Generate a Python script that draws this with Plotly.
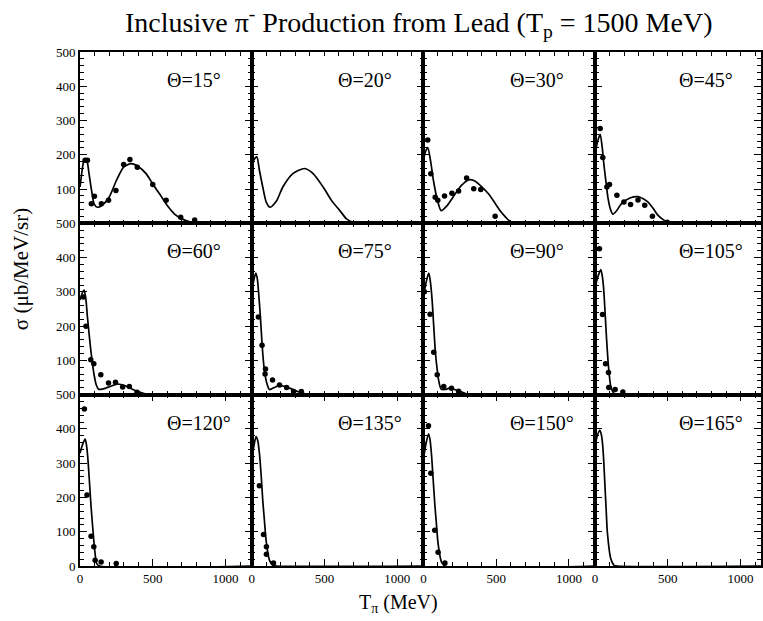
import plotly.graph_objects as go

# ---------------- data ----------------
angles = [15, 20, 30, 45, 60, 75, 90, 105, 120, 135, 150, 165]

# Theta = 15
pts15_T = [35, 51, 78, 99, 147, 196, 247, 300, 343, 394, 500, 592, 692, 788]
pts15_s = [184, 184, 57, 79, 57, 67, 96, 172, 186, 164, 113, 67, 18, 10]
fit15_T = [0, 10, 25, 40, 50, 62, 80, 97, 120, 150, 200, 250, 300, 350, 400, 454, 500, 550, 600, 650, 700, 750, 820, 1180]
fit15_s = [106, 140, 180, 189, 180, 145, 95, 57, 47, 52, 76, 125, 164, 174, 166, 145, 115, 84, 52, 27, 13, 5, 0, 0]

# Theta = 20 (no data points)
pts20_T = []
pts20_s = []
fit20_T = [0, 15, 35, 53, 76, 100, 127, 170, 214, 283, 364, 422, 491, 548, 606, 652, 698, 760, 1180]
fit20_s = [155, 185, 194, 155, 106, 62, 47, 65, 106, 145, 160, 145, 106, 67, 37, 13, 3, 0, 0]

# Theta = 30
pts30_T = [30, 51, 81, 99, 145, 196, 242, 297, 346, 394, 493]
pts30_s = [243, 145, 76, 67, 80, 88, 94, 132, 101, 99, 21]
fit30_T = [0, 15, 30, 50, 69, 95, 122, 160, 219, 260, 311, 350, 403, 450, 495, 530, 565, 600, 650, 1180]
fit30_s = [184, 210, 221, 180, 125, 70, 37, 50, 86, 110, 127, 124, 106, 85, 57, 35, 18, 4, 0, 0]

# Theta = 45
pts45_T = [35, 53, 81, 99, 150, 198, 244, 295, 341, 394, 496]
pts45_s = [277, 192, 106, 113, 82, 62, 55, 68, 53, 21, 3]
fit45_T = [0, 15, 35, 48, 60, 75, 88, 105, 122, 150, 180, 240, 295, 330, 364, 400, 433, 470, 502, 550, 1140]
fit45_s = [199, 235, 260, 225, 174, 120, 76, 42, 27, 38, 57, 74, 78, 72, 62, 43, 23, 10, 3, 0, 0]

# Theta = 60
pts60_T = [23, 41, 74, 95, 143, 196, 244, 293, 339, 392]
pts60_s = [285, 200, 102, 90, 58, 34, 36, 22, 24, 7]
fit60_T = [0, 15, 28, 40, 51, 62, 74, 86, 99, 112, 127, 160, 207, 254, 290, 323, 360, 392, 430, 461, 520, 1180]
fit60_s = [276, 296, 305, 280, 227, 180, 131, 90, 53, 28, 16, 17, 24, 31, 29, 24, 16, 10, 5, 2, 0, 0]

# Theta = 75
pts75_T = [46, 71, 92, 95, 143, 191, 240, 288, 341]
pts75_s = [227, 144, 60, 75, 43, 28, 21, 9, 9]
fit75_T = [0, 15, 28, 38, 48, 60, 71, 80, 90, 105, 122, 150, 191, 225, 260, 295, 330, 399, 1180]
fit75_s = [300, 335, 355, 340, 295, 225, 150, 100, 63, 32, 15, 20, 27, 24, 19, 13, 7, 0, 0]

# Theta = 90
pts90_T = [7, 46, 71, 95, 140, 193, 242]
pts90_s = [300, 235, 124, 58, 24, 19, 10]
fit90_T = [0, 20, 37, 48, 60, 71, 83, 93, 104, 122, 150, 180, 215, 249, 318, 1180]
fit90_s = [285, 330, 355, 330, 276, 200, 121, 80, 44, 16, 15, 19, 15, 10, 0, 0]

# Theta = 105
pts105_T = [30, 51, 72, 92, 94, 138, 191]
pts105_s = [426, 234, 90, 65, 21, 15, 8]
fit105_T = [0, 20, 39, 48, 58, 66, 74, 83, 92, 108, 127, 150, 1140]
fit105_s = [314, 345, 365, 350, 314, 260, 198, 135, 82, 24, 5, 0, 0]

# Theta = 120
pts120_T = [30, 48, 76, 95, 104, 145, 249]
pts120_s = [458, 207, 87, 56, 17, 12, 7]
fit120_T = [0, 18, 35, 44, 53, 65, 76, 88, 99, 115, 135, 1180]
fit120_s = [329, 355, 370, 355, 319, 245, 173, 110, 56, 7, 0, 0]

# Theta = 135
pts135_T = [53, 81, 101, 101, 150]
pts135_s = [234, 92, 56, 34, 9]
fit135_T = [0, 15, 30, 42, 53, 65, 76, 88, 99, 122, 145, 170, 1180]
fit135_s = [310, 350, 378, 365, 329, 265, 192, 130, 75, 17, 2, 0, 0]

# Theta = 150
pts150_T = [35, 51, 78, 101, 148]
pts150_s = [409, 271, 104, 40, 9]
fit150_T = [0, 17, 35, 45, 55, 66, 78, 90, 101, 124, 148, 1180]
fit150_s = [310, 355, 386, 370, 329, 260, 183, 120, 65, 12, 0, 0]

# Theta = 165 (no data points)
pts165_T = []
pts165_s = []
fit165_T = [0, 15, 32, 42, 51, 59, 67, 76, 85, 108, 131, 150, 1140]
fit165_s = [349, 380, 396, 385, 358, 310, 241, 165, 95, 21, 2, 0, 0]

x_ticks = [0, 500, 1000]
y_ticks = [0, 100, 200, 300, 400, 500]

panels = [
    (pts15_T, pts15_s, fit15_T, fit15_s),
    (pts20_T, pts20_s, fit20_T, fit20_s),
    (pts30_T, pts30_s, fit30_T, fit30_s),
    (pts45_T, pts45_s, fit45_T, fit45_s),
    (pts60_T, pts60_s, fit60_T, fit60_s),
    (pts75_T, pts75_s, fit75_T, fit75_s),
    (pts90_T, pts90_s, fit90_T, fit90_s),
    (pts105_T, pts105_s, fit105_T, fit105_s),
    (pts120_T, pts120_s, fit120_T, fit120_s),
    (pts135_T, pts135_s, fit135_T, fit135_s),
    (pts150_T, pts150_s, fit150_T, fit150_s),
    (pts165_T, pts165_s, fit165_T, fit165_s),
]

# ---------------- layout geometry ----------------
W, H = 763, 621
ML, MR, MT, MB = 80, 0, 52, 55
plot_w = W - ML - MR
plot_h = H - MT - MB
col_w = 172.2
col_frac = col_w / plot_w
x_full = 1180.0
x_last = x_full * (plot_w - 3 * col_w) / col_w

FONT = "Liberation Serif"
fig = go.Figure()
layout = {}
annotations = []

for i, (pT, ps, fT, fs) in enumerate(panels):
    n = i + 1
    r, c = divmod(i, 4)
    xa = "x" if n == 1 else f"x{n}"
    ya = "y" if n == 1 else f"y{n}"
    fig.add_trace(go.Scatter(
        x=fT, y=fs, mode="lines", xaxis=xa, yaxis=ya, showlegend=False,
        line=dict(color="black", width=1.7, shape="spline", smoothing=0.7),
        hoverinfo="skip"))
    if pT:
        fig.add_trace(go.Scatter(
            x=pT, y=ps, mode="markers", xaxis=xa, yaxis=ya, showlegend=False,
            marker=dict(color="black", size=5.5)))

    x0 = c * col_frac
    x1 = min((c + 1) * col_frac, 1.0)
    y1 = 1 - r / 3
    y0 = 1 - (r + 1) / 3
    xr = [0, x_last] if c == 3 else [0, x_full]

    xkey = "xaxis" if n == 1 else f"xaxis{n}"
    ykey = "yaxis" if n == 1 else f"yaxis{n}"
    layout[xkey] = dict(
        domain=[x0, x1], range=xr, anchor=ya,
        showline=True, linecolor="black", linewidth=1.6, mirror="ticks",
        ticks="inside", ticklen=7, tickwidth=1.2, tickcolor="black",
        tickmode="array", tickvals=x_ticks,
        ticktext=[str(v) for v in x_ticks] if r == 2 else ["" for v in x_ticks],
        showticklabels=(r == 2),
        minor=dict(dtick=100, tick0=0, ticks="inside", ticklen=4, tickcolor="black", tickwidth=1),
        showgrid=False, zeroline=False,
        tickfont=dict(family=FONT, size=13, color="black"),
    )
    if r == 2:
        ytext = [str(v) for v in y_ticks]
    else:
        ytext = [""] + [str(v) for v in y_ticks[1:]]
    layout[ykey] = dict(
        domain=[y0, y1], range=[0, 500], anchor=xa,
        showline=True, linecolor="black", linewidth=1.6, mirror="ticks",
        ticks="inside", ticklen=7, tickwidth=1.2, tickcolor="black",
        tickmode="array", tickvals=y_ticks, ticktext=ytext,
        showticklabels=(c == 0),
        minor=dict(dtick=20, tick0=0, ticks="inside", ticklen=4, tickcolor="black", tickwidth=1),
        showgrid=False, zeroline=False,
        tickfont=dict(family=FONT, size=13, color="black"),
    )
    annotations.append(dict(
        text=f"\u0398={angles[i]}\u00b0",
        xref=f"{xa} domain", yref=f"{ya} domain",
        x=85 / col_w, y=1 - 28 / 171.3, xanchor="left", yanchor="middle",
        showarrow=False, font=dict(family=FONT, size=20, color="black")))

annotations.append(dict(
    text="Inclusive \u03c0<sup>-</sup> Production from Lead (T<sub>p</sub> = 1500 MeV)",
    xref="paper", yref="paper", x=(419 - ML) / plot_w, y=1 + (MT - 23) / plot_h,
    xanchor="center", yanchor="middle", showarrow=False,
    font=dict(family=FONT, size=28, color="black")))
annotations.append(dict(
    text="T<sub>\u03c0</sub> (MeV)",
    xref="paper", yref="paper", x=(399 - ML) / plot_w, y=-(603 - (H - MB)) / plot_h,
    xanchor="center", yanchor="middle", showarrow=False,
    font=dict(family=FONT, size=20, color="black")))
annotations.append(dict(
    text="\u03c3 (\u03bcb/MeV/sr)",
    xref="paper", yref="paper", x=-(ML - 21) / plot_w, y=(H - MB - 269) / plot_h,
    xanchor="center", yanchor="middle", textangle=-90, showarrow=False,
    font=dict(family=FONT, size=21, color="black")))

fig.update_layout(
    width=W, height=H,
    margin=dict(l=ML, r=MR, t=MT, b=MB),
    paper_bgcolor="white", plot_bgcolor="white",
    font=dict(family=FONT, color="black"),
    annotations=annotations,
    **layout,
)

fig.write_html(
    "out.html",
    config={"displayModeBar": False},
    post_script="document.body.style.margin='0';document.body.style.overflow='hidden';",
)
